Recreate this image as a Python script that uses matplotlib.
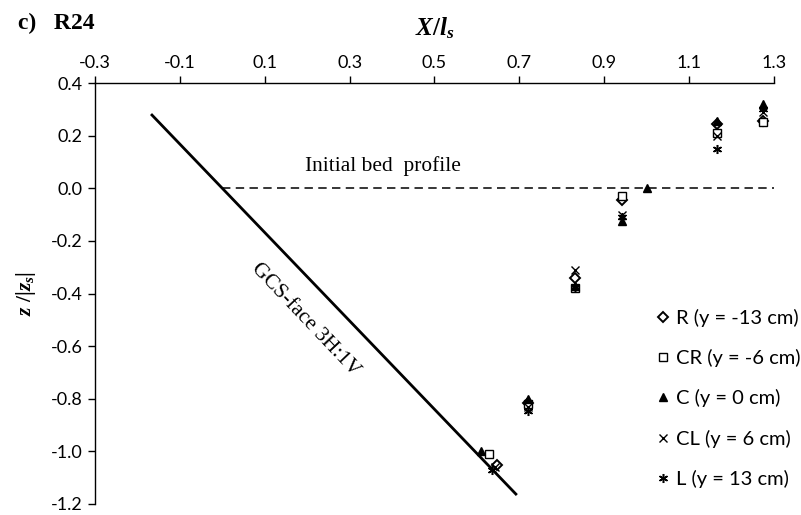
import numpy as np
import matplotlib
matplotlib.use('Agg')
import matplotlib.pyplot as plt

plt.rcParams['mathtext.fontset'] = 'custom'
plt.rcParams['mathtext.it'] = 'Liberation Serif:italic:bold'
plt.rcParams['mathtext.rm'] = 'Liberation Serif:bold'
plt.rcParams['mathtext.bf'] = 'Liberation Serif:bold'

SANS = 'Lato'
SERIF = 'Liberation Serif'

# scour profile points, one x-position set per transect
x_r = [0.647, 0.720, 0.832, 0.941, 1.165, 1.275]
z_r = [-1.05, -0.815, -0.34, -0.045, 0.245, 0.255]
x_cr = [0.628, 0.720, 0.832, 0.941, 1.165, 1.275]
z_cr = [-1.01, -0.82, -0.38, -0.03, 0.21, 0.25]
x_c = [0.610, 0.720, 0.832, 0.941, 1.000, 1.165, 1.275]
z_c = [-1.00, -0.80, -0.37, -0.125, 0.0, 0.255, 0.32]
x_cl = [0.642, 0.720, 0.832, 0.941, 1.165, 1.275]
z_cl = [-1.06, -0.83, -0.31, -0.10, 0.20, 0.29]
x_l = [0.635, 0.720, 0.832, 0.941, 1.165, 1.275]
z_l = [-1.07, -0.845, -0.375, -0.11, 0.15, 0.30]

# sloping face of the grade-control structure and the initial bed
gcs_x = [-0.168, 0.694]
gcs_z = [0.282, -1.166]
bed_x = [0.0, 1.3]
bed_z = [0.0, 0.0]

xticks = [-0.3, -0.1, 0.1, 0.3, 0.5, 0.7, 0.9, 1.1, 1.3]
yticks = [0.4, 0.2, 0.0, -0.2, -0.4, -0.6, -0.8, -1.0, -1.2]

fig = plt.figure(figsize=(8.01, 5.15), dpi=100)
ax = fig.add_axes([95/801, 1-504/515, (774-95)/801, (504-83)/515])

ax.plot(gcs_x, gcs_z, color='black', lw=2.0, solid_capstyle='butt')
ax.plot(bed_x, bed_z, color='black', lw=1.1, dashes=(5.5, 3.5))

ms = 5.5
ax.plot(x_r, z_r, ls='none', marker='D', ms=4.6, mfc='white', mec='black', mew=1.4,
        label='R (y = -13 cm)')
ax.plot(x_cr, z_cr, ls='none', marker='s', ms=ms, mfc='white', mec='black', mew=1.0,
        label='CR (y = -6 cm)')
ax.plot(x_c, z_c, ls='none', marker='^', ms=ms+0.5, mfc='black', mec='black',
        label='C (y = 0 cm)')
ax.plot(x_cl, z_cl, ls='none', marker='x', ms=ms, mec='black', mew=1.0,
        label='CL (y = 6 cm)')
ax.plot(x_l, z_l, ls='none', marker=(6, 2, 0), ms=ms+1, mec='black', mew=1.1,
        label='L (y = 13 cm)')

ax.set_xlim(-0.3, 1.3)
ax.set_ylim(-1.2, 0.4)
ax.set_xticks(xticks)
ax.set_yticks(yticks)
ax.set_xticklabels(['%.1f' % v for v in xticks], fontsize=13, family=SANS)
ax.set_yticklabels(['%.1f' % v for v in yticks], fontsize=13, family=SANS)
ax.xaxis.tick_top()
ax.xaxis.set_label_position('top')
ax.tick_params(axis='both', direction='out', length=5, width=1, pad=4)
ax.spines['bottom'].set_visible(False)
ax.spines['right'].set_visible(False)
for s in ('top', 'left'):
    ax.spines[s].set_linewidth(1.0)

ax.set_xlabel(r'$X/l_s$', fontsize=18, labelpad=14)
ax.set_ylabel(r'$z\ /|z_s|$', fontsize=15.5, labelpad=9)

ax.text(0.379, 0.085, 'Initial bed  profile', family=SERIF, fontsize=15.4,
        ha='center', va='center')
ax.text(0.195, -0.50, 'GCS-face 3H:1V', family=SERIF, fontsize=15.5,
        ha='center', va='center', rotation=-46.5, rotation_mode='anchor')

fig.text(0.022, 0.955, 'c)   R24', family=SERIF, fontweight='bold', fontsize=17,
         ha='left', va='center')

ax.legend(loc='upper left', bbox_to_anchor=(657/801, 1-309/515),
          bbox_transform=fig.transFigure, frameon=False,
          prop={'family': SANS, 'size': 14.5}, handlelength=0.6,
          handletextpad=0.35, labelspacing=1.10, borderpad=0, borderaxespad=0)

fig.savefig('out.png', dpi=100)
